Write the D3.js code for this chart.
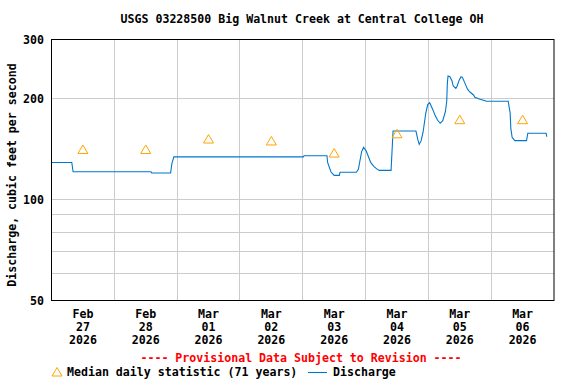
<!DOCTYPE html>
<html><head><meta charset="utf-8">
<script src="https://cdn.jsdelivr.net/npm/d3@7"></script>
<style>body{margin:0;background:#fff}svg{display:block}text{font-family:"DejaVu Sans Mono","Liberation Mono",monospace;font-weight:bold;font-size:11.6px}</style>
</head><body>
<svg id="c" width="576" height="384"></svg>
<script>
const title = "USGS 03228500 Big Walnut Creek at Central College OH";
const yTitle = "Discharge, cubic feet per second";
const yTickLabels = [50, 100, 200, 300];
const yGridValues = [60, 70, 80, 90, 100, 200];
const dayLabels = [["Feb","27","2026"],["Feb","28","2026"],["Mar","01","2026"],["Mar","02","2026"],["Mar","03","2026"],["Mar","04","2026"],["Mar","05","2026"],["Mar","06","2026"]];
const medianDays = ["2026-02-27","2026-02-28","2026-03-01","2026-03-02","2026-03-03","2026-03-04","2026-03-05","2026-03-06"];
const medianValues = [141, 141, 151.5, 149.5, 137.6, 157, 173, 173];
const dischargeTimes = [
"2026-02-27T00:00","2026-02-27T07:45","2026-02-27T08:15","2026-02-28T14:00","2026-02-28T14:15","2026-02-28T21:30","2026-02-28T22:00","2026-02-28T22:45",
"2026-03-03T00:15","2026-03-03T00:30","2026-03-03T09:15","2026-03-03T09:30","2026-03-03T10:45","2026-03-03T12:00","2026-03-03T14:00","2026-03-03T14:15",
"2026-03-03T20:30","2026-03-03T21:15","2026-03-03T22:30","2026-03-03T23:15","2026-03-04T00:15","2026-03-04T01:00","2026-03-04T02:00","2026-03-04T03:15",
"2026-03-04T04:30","2026-03-04T05:15","2026-03-04T09:45","2026-03-04T10:30","2026-03-04T19:15","2026-03-04T20:00","2026-03-04T20:30","2026-03-04T21:15",
"2026-03-04T22:00","2026-03-04T23:00","2026-03-04T23:45","2026-03-05T00:30","2026-03-05T01:45","2026-03-05T02:30","2026-03-05T03:30","2026-03-05T04:30",
"2026-03-05T05:30","2026-03-05T06:30","2026-03-05T07:00","2026-03-05T07:15","2026-03-05T07:30","2026-03-05T08:15","2026-03-05T09:00","2026-03-05T09:30",
"2026-03-05T10:30","2026-03-05T11:00","2026-03-05T11:45","2026-03-05T12:30","2026-03-05T13:00","2026-03-05T14:00","2026-03-05T15:00","2026-03-05T16:00",
"2026-03-05T17:15","2026-03-05T17:45","2026-03-05T19:45","2026-03-05T21:45","2026-03-05T22:00","2026-03-06T06:30","2026-03-06T07:15","2026-03-06T07:30",
"2026-03-06T08:00","2026-03-06T09:00","2026-03-06T13:30","2026-03-06T14:00","2026-03-06T21:00","2026-03-06T21:15"];
const dischargeValues = [
129,129,121,121,120,120,128,134,
134,135,135,129,121,118,118,120.6,
120.6,123,139,143,139.5,134.8,128.8,125.3,
123,122.2,122.2,160,160,150.5,146,149.8,
159.3,180.8,192,194.4,185,178.7,172.6,168.8,
171.8,182.7,195.7,222,233.5,232.4,226,218,
214.6,218,227,232.4,231.4,222,213,208.8,
205,201.7,199,197.1,196.3,196.3,181,163,
153.3,149.8,149.8,157.6,157.6,153.9];

const svg = d3.select("#c");
const L = 51.5, R = 554, T = 39.5, B = 300.5;
const parse = d3.timeParse("%Y-%m-%dT%H:%M");
const parseDay = d3.timeParse("%Y-%m-%d");
const x = d3.scaleTime().domain([new Date(2026,1,27), new Date(2026,2,7)]).range([L, R]);
const y = d3.scaleLog().domain([50, 300]).range([B, T]);
const px = v => Math.round(v - 0.5) + 0.5;

// grid
const g = svg.append("g");
g.selectAll(".hg").data(yGridValues).enter().append("line")
  .attr("x1", L).attr("x2", R).attr("y1", d => px(y(d))).attr("y2", d => px(y(d)))
  .attr("stroke", "#cccccc").attr("stroke-width", 1);
const days = d3.timeDay.range(new Date(2026,1,28), new Date(2026,2,7));
g.selectAll(".vg").data(days).enter().append("line")
  .attr("x1", d => px(x(d))).attr("x2", d => px(x(d))).attr("y1", T).attr("y2", B)
  .attr("stroke", "#cccccc").attr("stroke-width", 1);

// discharge line
const pts = dischargeTimes.map((t, i) => [parse(t), dischargeValues[i]]);
svg.append("path").datum(pts)
  .attr("d", d3.line().x(d => x(d[0])).y(d => y(d[1])))
  .attr("fill", "none").attr("stroke", "#0077cc").attr("stroke-width", 1.1);

// median triangles
const tri = (cx, cy) => `M${cx-5},${cy+4}L${cx},${cy-4.5}L${cx+5},${cy+4}Z`;
svg.selectAll(".tri").data(medianDays).enter().append("path")
  .attr("d", (d, i) => tri(x(d3.timeHour.offset(parseDay(d), 12)), y(medianValues[i])))
  .attr("fill", "none").attr("stroke", "#ffa500").attr("stroke-width", 1);

// frame
svg.append("rect").attr("x", L).attr("y", T).attr("width", R - L).attr("height", B - T)
  .attr("fill", "none").attr("stroke", "#000").attr("stroke-width", 1);

// y tick labels
svg.selectAll(".yl").data(yTickLabels).enter().append("text")
  .attr("x", 44).attr("y", d => y(d) + 4).attr("text-anchor", "end").text(d => d);

// x labels
const xl = svg.selectAll(".xl").data(dayLabels).enter().append("text")
  .attr("text-anchor", "middle")
  .attr("transform", (d, i) => `translate(${x(d3.timeHour.offset(parseDay(medianDays[i]), 12))},0)`);
xl.each(function(d) {
  d.forEach((s, k) => d3.select(this).append("tspan").attr("x", 0).attr("y", 318 + k * 13).text(s));
});

// titles
svg.append("text").attr("x", 302).attr("y", 23).attr("text-anchor", "middle").text(title);
svg.append("text").attr("transform", "translate(16,175) rotate(-90)").attr("text-anchor", "middle").text(yTitle);
svg.append("text").attr("x", 301).attr("y", 362).attr("text-anchor", "middle").attr("fill", "#ff0000")
  .text("---- Provisional Data Subject to Revision ----");

// legend
svg.append("path").attr("d", tri(57, 372)).attr("fill", "none").attr("stroke", "#ffa500");
svg.append("text").attr("x", 67).attr("y", 376).text("Median daily statistic (71 years)");
svg.append("line").attr("x1", 308).attr("x2", 327).attr("y1", 372.5).attr("y2", 372.5).attr("stroke", "#0077cc").attr("stroke-width", 1.1);
svg.append("text").attr("x", 333).attr("y", 376).text("Discharge");
</script>
</body></html>
